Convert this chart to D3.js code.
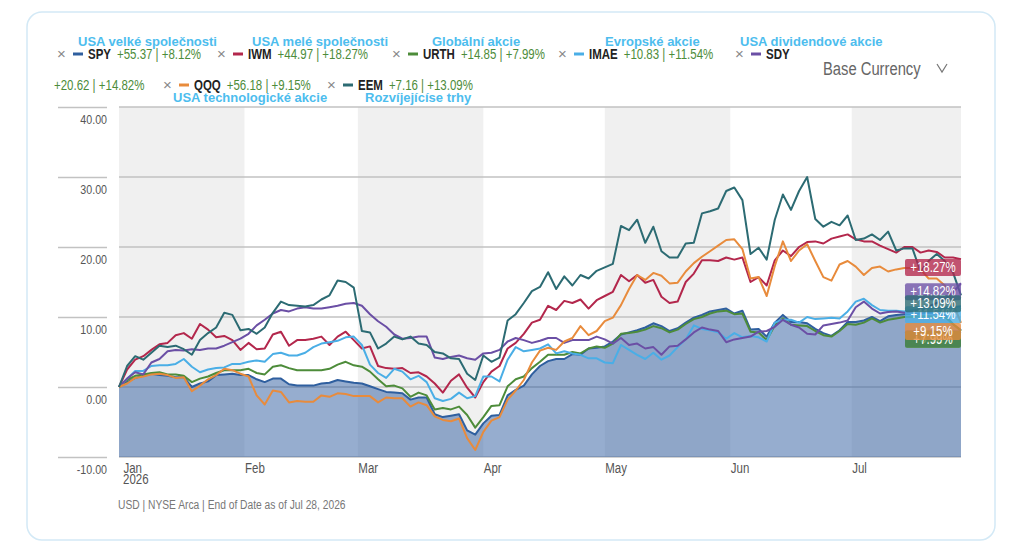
<!DOCTYPE html>
<html>
<head>
<meta charset="utf-8">
<script src="https://cdn.jsdelivr.net/npm/d3@7"></script>
<style>
    body { margin: 0; background: #fff; }
    svg text { font-family: 'Liberation Sans', Arial, sans-serif; }
    .note { font-weight: bold; font-size: 13px; fill: #4dbdee; }
</style>
</head>
<body>
<svg id="canvas"></svg>
<script>
// every 2 days, Jan 1 .. Jul 28 2026
const dates = d3.timeDay.range(new Date(2026, 0, 1), new Date(2026, 6, 29), 2);

const tickers = ["SPY", "IWM", "URTH", "IMAE", "SDY", "QQQ", "EEM"];
const changes = ["+55.37", "+44.97", "+14.85", "+10.83", "+20.62", "+56.18", "+7.16"];
const pctChanges = ["+8.12%", "+18.27%", "+7.99%", "+11.54%", "+14.82%", "+9.15%", "+13.09%"];
const czechNames = ["USA velké společnosti", "USA melé společnosti", "Globální akcie", "Evropské akcie",
    "USA dividendové akcie", "USA technologické akcie", "Rozvíjejícíse trhy"];
const months = ["Jan", "Feb", "Mar", "Apr", "May", "Jun", "Jul"];
const yTicks = [-10, 0, 10, 20, 30, 40];

const spyValues = [0, 0.7, 1.3, 1.6, 1.9, 1.7, 1.6, 1.4, 1.4, 0, 0.5, 0.8, 1.7, 1.8, 1.9, 1.7, 1.7, 1.1, 0.7, 1.2,
    1.2, 0.4, 0.2, 0.2, 0.2, 0.5, 0.6, 1.0, 0.8, 0.6, 0.5, 0.1, -0.3, -0.7, -0.8, -0.9, -1.8, -1.5, -1.5, -3.9,
    -4.3, -4.1, -3.9, -6.2, -6.8, -5.2, -4.1, -4.0, -1.2, -0.4, 0.2, 1.8, 3.0, 3.7, 4.0, 4.0, 4.7, 4.6, 5.5, 5.6,
    5.8, 6.5, 7.5, 7.8, 8.1, 8.5, 9.1, 8.7, 8.0, 8.4, 9.2, 9.9, 10.3, 10.8, 11.0, 11.2, 10.5, 10.9, 8.2, 8.3,
    7.2, 9.2, 10.3, 9.3, 9.3, 9.1, 8.3, 7.7, 7.3, 8.1, 9.3, 9.3, 9.5, 10.0, 9.4, 10.1, 10.3, 10.4, 10.4, 10.5,
    10.6, 10.5, 10.3, 9.0, 8.12];
const iwmValues = [0, 2.5, 3.9, 4.4, 5.3, 6.1, 6.3, 7.4, 7.7, 6.9, 9.0, 8.2, 7.1, 7.3, 6.7, 5.3, 6.3, 5.4, 5.5, 7.5,
    7.9, 5.9, 6.7, 6.7, 6.9, 7.2, 6.0, 7.2, 7.9, 6.7, 5.5, 5.8, 3.0, 2.7, 2.6, 2.7, 2.0, 2.1, 1.5, 0.5,
    -0.8, 0.9, 1.8, -0.1, -1.5, 0.7, 2.2, 3.0, 5.5, 6.3, 7.6, 9.2, 9.6, 11.6, 11.0, 12.3, 12.0, 12.5, 11.2, 12.4,
    13.0, 13.6, 16.0, 15.1, 16.0, 14.9, 15.3, 12.9, 12.0, 12.2, 15.0, 16.2, 18.1, 18.1, 18.0, 18.5, 18.2, 18.5, 15.0, 15.7,
    14.5, 18.1, 19.5, 18.7, 20.0, 20.7, 20.8, 20.5, 21.2, 21.5, 21.8, 21.1, 20.8, 20.8, 20.2, 19.7, 19.2, 20.0, 20.0, 19.2,
    19.5, 19.3, 18.5, 18.5, 18.27];
const urthValues = [0, 1.0, 1.6, 1.8, 2.0, 2.1, 1.8, 1.8, 1.6, 0.7, 1.2, 1.5, 2.0, 2.4, 2.4, 2.4, 2.6, 2.0, 1.8, 2.9,
    3.1, 2.7, 2.4, 2.4, 2.4, 2.4, 2.6, 3.2, 3.6, 3.1, 2.9, 2.2, 1.1, 0.1, 0.2, -0.2, -1.4, -0.8, -1.2, -3.2,
    -3.0, -3.2, -2.8, -4.0, -5.8, -4.3, -2.7, -2.6, 0.1, 1.1, 1.5, 2.7, 3.6, 4.6, 4.6, 4.6, 5.0, 4.8, 5.5, 5.8,
    5.6, 6.2, 7.6, 7.7, 7.9, 8.2, 8.7, 8.4, 7.8, 8.2, 9.0, 9.7, 10.0, 10.5, 10.8, 10.9, 10.4, 10.5, 7.9, 7.8,
    6.7, 8.8, 9.8, 8.9, 8.8, 8.7, 8.0, 7.4, 7.2, 8.0, 9.0, 8.9, 9.2, 9.8, 9.2, 9.6, 9.8, 10.0, 10.0, 10.1,
    10.1, 10.0, 10.0, 9.0, 7.99];
const imaeValues = [0, 1.2, 2.3, 2.3, 3.0, 3.1, 3.1, 3.3, 4.0, 2.9, 2.1, 2.5, 2.7, 2.8, 3.3, 3.3, 3.6, 3.8, 3.6, 4.7,
    4.9, 4.5, 4.5, 4.9, 5.7, 6.2, 6.4, 6.6, 7.1, 7.2, 6.0, 3.2, 2.0, 1.3, 2.6, 2.2, 1.1, 1.6, 0.7, -1.6,
    -2.0, -1.7, -0.8, -1.6, -1.3, 1.5, 1.5, 0.8, 3.9, 5.7, 5.1, 5.3, 5.5, 6.1, 4.8, 5.1, 4.8, 4.6, 4.1, 4.1,
    3.5, 3.4, 6.0, 5.3, 4.6, 4.0, 4.9, 3.9, 4.5, 5.7, 6.8, 8.8, 8.3, 8.1, 7.8, 6.9, 7.7, 7.1, 7.3, 7.1,
    6.5, 9.2, 9.6, 9.6, 9.2, 10.0, 9.7, 9.8, 9.9, 9.8, 10.8, 12.2, 12.6, 11.7, 11.0, 10.9, 10.9, 10.8, 11.0, 11.0,
    11.2, 11.2, 11.3, 11.4, 11.54];
const sdyValues = [0, 1.2, 2.1, 1.8, 3.5, 4.0, 5.1, 5.3, 5.2, 5.4, 5.3, 5.5, 5.5, 5.9, 6.4, 6.9, 7.6, 8.8, 9.6, 10.5,
    11.0, 10.8, 11.2, 11.4, 11.2, 11.2, 11.4, 11.6, 11.9, 12.0, 11.6, 10.4, 9.4, 8.6, 7.5, 6.9, 7.0, 7.2, 7.2, 4.2,
    4.0, 4.3, 4.5, 4.1, 3.9, 4.8, 4.9, 5.3, 6.5, 7.0, 6.7, 6.3, 6.6, 7.0, 7.0, 6.3, 6.7, 6.7, 6.7, 7.2,
    6.8, 6.2, 7.0, 6.0, 6.2, 5.5, 5.7, 4.6, 5.8, 5.9, 6.8, 7.8, 8.5, 8.2, 8.0, 6.4, 6.8, 7.0, 7.2, 7.9,
    8.0, 8.6, 9.6, 8.9, 8.5, 7.6, 7.5, 8.8, 9.0, 9.2, 9.5, 11.4, 12.2, 11.2, 10.5, 10.7, 10.8, 10.6, 10.8, 11.2,
    11.5, 12.0, 12.5, 13.5, 14.82];
const qqqValues = [0, 0.5, 1.3, 1.5, 1.8, 1.9, 1.7, 1.3, 1.4, -0.6, 0.2, 1.1, 1.7, 2.6, 2.4, 1.9, 1.5, -1.2, -2.5, -0.5,
    -0.7, -2.2, -2.0, -2.1, -2.1, -1.2, -1.4, -0.9, -1.0, -1.3, -1.3, -1.3, -2.2, -1.5, -1.6, -1.6, -2.8, -2.2, -2.6, -4.2,
    -4.7, -4.9, -4.5, -7.3, -9.0, -6.4, -4.8, -4.3, -1.8, -0.5, 1.0, 3.5, 5.2, 5.6, 5.3, 6.5, 7.0, 8.7, 7.4, 8.0,
    9.4, 9.9, 11.7, 14.0, 16.0, 15.3, 16.3, 15.9, 14.8, 14.9, 16.5, 17.7, 18.6, 19.4, 20.2, 21.0, 21.1, 19.7, 15.5, 15.7,
    13.0, 17.3, 20.8, 18.0, 19.5, 20.4, 18.0, 15.7, 15.2, 17.5, 18.0, 17.2, 16.0, 17.0, 17.2, 16.5, 16.8, 17.0, 17.0, 16.8,
    15.5, 15.5, 14.5, 12.0, 9.15];
const eemValues = [0, 3.0, 4.4, 3.9, 4.9, 5.9, 5.7, 5.9, 5.4, 4.6, 6.7, 7.7, 8.5, 10.6, 10.3, 8.1, 8.3, 7.6, 8.5, 10.6,
    12.2, 11.7, 11.6, 11.5, 11.7, 12.5, 13.1, 15.2, 15.0, 14.2, 8.0, 7.8, 5.5, 6.2, 7.2, 6.8, 7.2, 6.2, 6.0, 5.0,
    4.8, 4.1, 4.0, 1.9, 1.0, 4.5, 3.6, 4.2, 9.5, 10.4, 12.0, 13.7, 14.3, 16.4, 14.0, 15.8, 14.5, 16.0, 15.5, 16.6,
    17.1, 17.6, 23.0, 22.4, 23.9, 20.6, 22.9, 19.4, 18.5, 18.5, 20.5, 20.6, 24.8, 25.1, 25.5, 28.0, 28.5, 26.7, 19.0, 19.9,
    18.2, 23.9, 27.5, 25.3, 28.0, 30.0, 24.0, 22.9, 23.6, 23.1, 24.5, 21.0, 21.2, 21.8, 21.0, 22.2, 19.5, 19.8, 19.8, 16.5,
    18.0, 19.0, 18.0, 16.4, 13.09];

const COLORS = ["#2f5f9f", "#b3274c", "#4d8c3a", "#4aaee6", "#6b4fa5", "#e88b3c", "#2c6b73"];
const allValues = [spyValues, iwmValues, urthValues, imaeValues, sdyValues, qqqValues, eemValues];

const width = 1024;
const height = 556;
const plot = { left: 119, right: 961, top: 107, bottom: 457 };

// squeeze regular Arial-like glyphs into a narrow face
function narrow(sel, k = 0.82) {
    sel.each(function () {
        const len = this.getComputedTextLength();
        d3.select(this).attr("textLength", len * k).attr("lengthAdjust", "spacingAndGlyphs");
    });
    return sel;
}

const svg = d3.select("#canvas")
    .attr("width", width)
    .attr("height", height);

// card frame
svg.append("rect")
    .attr("x", 27).attr("y", 12)
    .attr("width", 968).attr("height", 528)
    .attr("rx", 15)
    .attr("fill", "none")
    .attr("stroke", "#d3e9f6")
    .attr("stroke-width", 1.5);

const x = d3.scaleTime()
    .domain([new Date(2026, 0, 1), new Date(2026, 6, 28)])
    .range([plot.left, plot.right]);
const y = d3.scaleLinear()
    .domain([-10, 40])
    .range([plot.bottom, plot.top]);

// alternate month bands
const monthStarts = d3.timeMonth.range(new Date(2026, 0, 1), new Date(2026, 7, 1));
svg.selectAll(".band")
    .data(monthStarts.filter((d, i) => i % 2 === 0))
    .enter()
    .append("rect")
    .attr("class", "band")
    .attr("x", d => x(d))
    .attr("y", plot.top)
    .attr("width", d => Math.min(x(d3.timeMonth.offset(d, 1)), plot.right) - x(d))
    .attr("height", plot.bottom - plot.top)
    .attr("fill", "#f0f0f0");

// grid
svg.selectAll(".grid")
    .data(yTicks)
    .enter()
    .append("line")
    .attr("class", "grid")
    .attr("x1", plot.left).attr("x2", plot.right)
    .attr("y1", d => y(d)).attr("y2", d => y(d))
    .attr("stroke", "#c2c2c2")
    .attr("stroke-width", 1.5);

const yAxis = svg.append("g")
    .attr("transform", `translate(107,0)`)
    .call(d3.axisLeft(y).tickValues(yTicks).tickFormat(d => d.toFixed(2)).tickSize(49));
yAxis.select(".domain").remove();
yAxis.selectAll("line").attr("stroke", "#c2c2c2").attr("stroke-width", 1.5);
yAxis.selectAll("text")
    .attr("x", 0)
    .attr("dy", 16)
    .style("font-size", "13px")
    .attr("fill", "#555")
    .call(narrow);

const xAxis = svg.append("g")
    .attr("transform", `translate(0,${plot.bottom})`)
    .call(d3.axisBottom(x).tickValues(monthStarts.slice(0, 7)).tickFormat((d, i) => months[i]).tickSize(0));
xAxis.select(".domain").remove();
xAxis.selectAll("text")
    .attr("text-anchor", "start")
    .attr("x", (d, i) => i === 0 ? 4 : 0)
    .attr("dy", 13)
    .style("font-size", "14px")
    .attr("fill", "#555")
    .call(narrow);

svg.append("text")
    .attr("x", x(monthStarts[0]) + 4)
    .attr("y", 484)
    .style("font-size", "14px")
    .attr("fill", "#555")
    .text("2026")
    .call(narrow);

// SPY area
const area = d3.area()
    .x((d, i) => x(dates[i]))
    .y0(plot.bottom)
    .y1(d => y(d));
svg.append("path")
    .datum(spyValues)
    .attr("d", area)
    .attr("fill", "rgb(46, 92, 160)")
    .attr("fill-opacity", 0.5);

const line = d3.line()
    .x((d, i) => x(dates[i]))
    .y(d => y(d));

svg.selectAll(".series")
    .data(allValues)
    .enter()
    .append("path")
    .attr("class", "series")
    .attr("d", line)
    .attr("fill", "none")
    .attr("stroke", (d, i) => COLORS[i])
    .attr("stroke-width", 2)
    .attr("stroke-linejoin", "round");

// end labels
const endLabels = svg.selectAll(".end-label")
    .data(allValues)
    .enter()
    .append("g")
    .attr("class", "end-label")
    .attr("transform", d => `translate(${plot.right - 56},${y(d[d.length - 1])})`);
endLabels.append("rect")
    .attr("width", 56)
    .attr("height", 17)
    .attr("rx", 2)
    .attr("fill", (d, i) => COLORS[i])
    .attr("fill-opacity", 0.78);
endLabels.append("text")
    .attr("x", 28)
    .attr("y", 13)
    .attr("text-anchor", "middle")
    .style("font-size", "14px")
    .attr("fill", "#fff")
    .text((d, i) => pctChanges[i])
    .call(narrow);

// legend
const legendX = [57, 217, 392, 558, 735, 163, 327];
const legendRow = [0, 0, 0, 0, 0, 1, 1];
const noteX = [78, 252, 432, 605, 740, 173, 365];
const rowY = [59, 90];
const noteY = [46, 102];

tickers.forEach((t, i) => {
    const g = svg.append("g").attr("transform", `translate(${legendX[i]},${rowY[legendRow[i]]})`);
    g.append("text")
        .attr("x", 0).attr("y", 0)
        .style("font-size", "15px")
        .attr("fill", "#888")
        .text("×");
    g.append("line")
        .attr("x1", 16).attr("x2", 26)
        .attr("y1", -5).attr("y2", -5)
        .attr("stroke", COLORS[i])
        .attr("stroke-width", 3);
    const tk = g.append("text")
        .attr("x", 31).attr("y", 0)
        .style("font-size", "14px")
        .style("font-weight", "bold")
        .attr("fill", "#222")
        .text(t);
    const tw = tk.node().getComputedTextLength() * 0.82;
    narrow(tk);
    const val = `${changes[i]} | ${pctChanges[i]}`;
    if (t === "SDY") {
        svg.append("text")
            .attr("x", 54).attr("y", rowY[1])
            .style("font-size", "14px")
            .attr("fill", "#4d8c3a")
            .text(val)
            .call(narrow);
    } else {
        g.append("text")
            .attr("x", 31 + tw + 6).attr("y", 0)
            .style("font-size", "14px")
            .attr("fill", "#4d8c3a")
            .text(val)
            .call(narrow);
    }
    svg.append("text")
        .attr("class", "note")
        .attr("x", noteX[i])
        .attr("y", noteY[legendRow[i]])
        .text(czechNames[i]);
});

svg.append("text")
    .attr("x", 823).attr("y", 75)
    .style("font-size", "18px")
    .attr("fill", "#666")
    .text("Base Currency")
    .call(narrow);
svg.append("path")
    .attr("d", "M937,64 L942,72 L947,64")
    .attr("fill", "none")
    .attr("stroke", "#777")
    .attr("stroke-width", 1.2);

svg.append("text")
    .attr("x", 118).attr("y", 509)
    .style("font-size", "12.5px")
    .attr("fill", "#777")
    .text("USD | NYSE Arca | End of Date as of Jul 28, 2026")
    .call(narrow);
</script>
</body>
</html>
